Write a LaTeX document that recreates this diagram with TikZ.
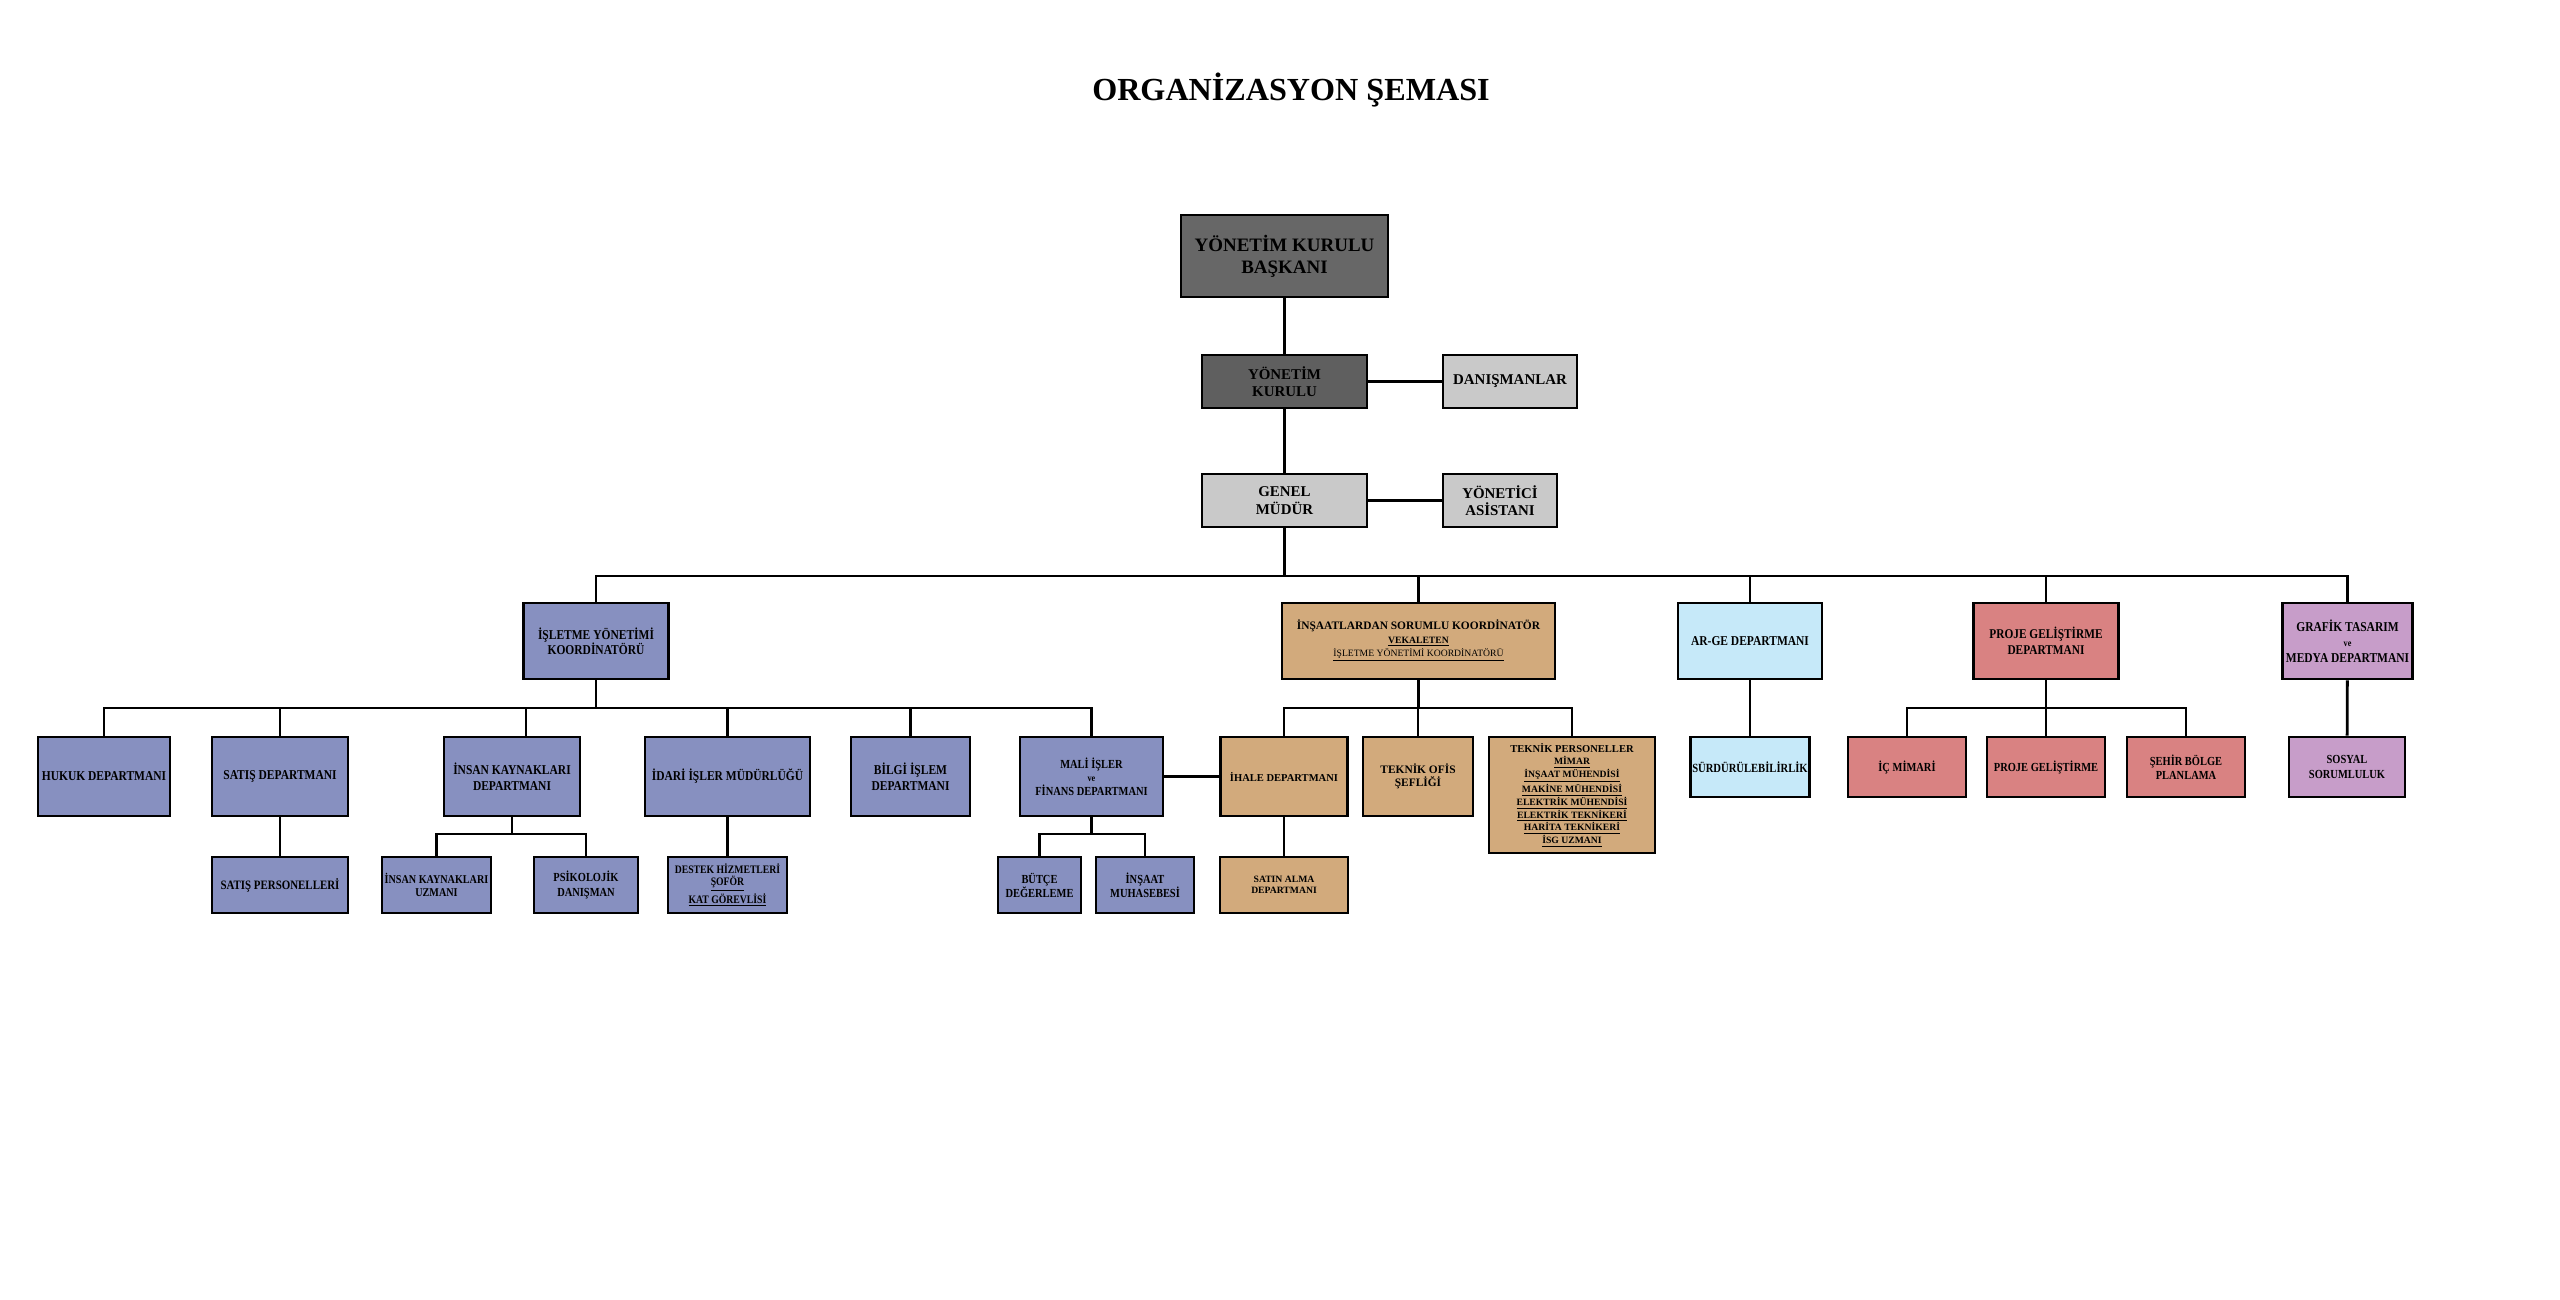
\documentclass[tikz,border=0pt]{standalone}
\usepackage{fontspec}
\setmainfont{Liberation Serif}
\newfontfamily\dar[FakeStretch=0.85]{Liberation Serif}
\usetikzlibrary{positioning}
\definecolor{baskangri}{HTML}{676767}
\definecolor{kurulgri}{HTML}{5F5F5F}
\definecolor{acikgri}{HTML}{C9C9C9}
\definecolor{isletmemavi}{HTML}{8790C0}
\definecolor{insaatkahve}{HTML}{D2AA7C}
\definecolor{argemavi}{HTML}{C6E9F9}
\definecolor{projepembe}{HTML}{D98282}
\definecolor{grafikmor}{HTML}{C79DC9}

\begin{document}
\begin{tikzpicture}[x=0.02cm,y=-0.02cm,
      box/.style={draw,line width=1.6pt,inner sep=1pt,align=center,text=black},
      sz/.style 2 args={minimum width=#1*0.02cm,minimum height=#2*0.02cm},
      ust/.style={box,font=\bfseries\fontsize{8.5}{9.9}\selectfont},
      mavi/.style={box,fill=isletmemavi,font=\dar\bfseries\fontsize{7.7}{8.8}\selectfont},
      kahve/.style={box,fill=insaatkahve,font=\bfseries\fontsize{6.5}{7.5}\selectfont},
      arge/.style={box,fill=argemavi,font=\dar\bfseries\fontsize{7.7}{8.8}\selectfont},
      proje/.style={box,fill=projepembe,font=\dar\bfseries\fontsize{7.6}{8.8}\selectfont},
      grafik/.style={box,fill=grafikmor,font=\dar\bfseries\fontsize{7.7}{8.8}\selectfont},
      kucuk/.style={font=\dar\bfseries\fontsize{7}{8}\selectfont},
      hat/.style={line width=1.6pt}]
  \useasboundingbox (0,0) rectangle (2560,1299);
  %.
  \node[font=\bfseries\fontsize{18.3}{22}\selectfont] (baslik) at (1291,90) {ORGANİZASYON ŞEMASI};
  %.
  \node[ust,fill=baskangri,sz={207}{82},font=\bfseries\fontsize{10.8}{12.6}\selectfont] (baskan) at (1284.5,256) {YÖNETİM KURULU\\BAŞKANI};
  \node[ust,fill=kurulgri,sz={165}{53}] (kurul) at (1284.5,381.5) {YÖNETİM\\KURULU};
  \node[ust,fill=acikgri,sz={134}{53}] (danisman) at (1510,381.5) {DANIŞMANLAR};
  \node[ust,fill=acikgri,sz={165}{53}] (genel) at (1284.5,500.5) {GENEL\\MÜDÜR};
  \node[ust,fill=acikgri,sz={114}{53}] (asistan) at (1500,500.5) {YÖNETİCİ\\ASİSTANI};
  %.
  \node[mavi,sz={145}{76}] (isletme) at (596,641) {İŞLETME YÖNETİMİ\\KOORDİNATÖRÜ};
  \node[kahve,sz={273}{76}] (insaat) at (1418.5,641) {İNŞAATLARDAN SORUMLU KOORDİNATÖR\\
      {\fontsize{5.5}{6.2}\selectfont\underline{VEKALETEN}}\\
      {\mdseries\fontsize{5.5}{6.2}\selectfont\underline{İŞLETME YÖNETİMİ KOORDİNATÖRÜ}}};
  \node[arge,sz={144}{76}] (argedep) at (1750,641) {AR-GE DEPARTMANI};
  \node[proje,sz={145}{76}] (projedep) at (2046,641) {PROJE GELİŞTİRME\\DEPARTMANI};
  \node[grafik,sz={130}{76}] (grafikdep) at (2347.5,641) {GRAFİK TASARIM\\{\fontsize{5.5}{6.2}\selectfont ve}\\MEDYA DEPARTMANI};
  %.
  \node[mavi,sz={132}{79}] (hukuk) at (104,776.5) {HUKUK DEPARTMANI};
  \node[mavi,sz={136}{79}] (satis) at (280,776.5) {SATIŞ DEPARTMANI};
  \node[mavi,sz={136}{79}] (ik) at (512,776.5) {İNSAN KAYNAKLARI\\DEPARTMANI};
  \node[mavi,sz={165}{79}] (idari) at (727.5,776.5) {İDARİ İŞLER MÜDÜRLÜĞÜ};
  \node[mavi,sz={119}{79}] (bilgi) at (910.5,776.5) {BİLGİ İŞLEM\\DEPARTMANI};
  \node[mavi,sz={143}{79},font=\dar\bfseries\fontsize{7}{7.8}\selectfont] (mali) at (1091.5,776.5) {MALİ İŞLER\\{\fontsize{5.5}{6}\selectfont ve}\\FİNANS DEPARTMANI};
  \node[kahve,sz={127}{79},font=\bfseries\fontsize{6}{7}\selectfont] (ihale) at (1284,776.5) {İHALE DEPARTMANI};
  \node[kahve,sz={110}{79}] (teknikofis) at (1418,776.5) {TEKNİK OFİS\\ŞEFLİĞİ};
  \node[kahve,sz={166}{116},font=\bfseries\fontsize{5.5}{7.2}\selectfont] (teknikpers) at (1572,795) {{\fontsize{6}{7.2}\selectfont TEKNİK PERSONELLER}\\
      \underline{MİMAR}\\\underline{İNŞAAT MÜHENDİSİ}\\\underline{MAKİNE MÜHENDİSİ}\\
      \underline{ELEKTRİK MÜHENDİSİ}\\\underline{ELEKTRİK TEKNİKERİ}\\
      \underline{HARİTA TEKNİKERİ}\\\underline{İSG UZMANI}};
  \node[arge,sz={118}{60},font=\dar\bfseries\fontsize{7.1}{8}\selectfont] (surdur) at (1750,767) {SÜRDÜRÜLEBİLİRLİK};
  \node[proje,kucuk,sz={118}{60}] (icmimari) at (1907,767) {İÇ MİMARİ};
  \node[proje,kucuk,sz={118}{60}] (projegel) at (2046,767) {PROJE GELİŞTİRME};
  \node[proje,kucuk,sz={118}{60}] (sehir) at (2186,767) {ŞEHİR BÖLGE\\PLANLAMA};
  \node[grafik,kucuk,sz={116}{60}] (sosyal) at (2347,767) {SOSYAL\\SORUMLULUK};
  %.
  \node[mavi,kucuk,sz={136}{56},font=\dar\bfseries\fontsize{7.3}{8}\selectfont] (satispers) at (280,885) {SATIŞ PERSONELLERİ};
  \node[mavi,kucuk,sz={109}{56},font=\dar\bfseries\fontsize{6.8}{7.8}\selectfont] (ikuzman) at (436.5,885) {İNSAN KAYNAKLARI\\UZMANI};
  \node[mavi,kucuk,sz={104}{56}] (psikolojik) at (586,885) {PSİKOLOJİK\\DANIŞMAN};
  \node[mavi,sz={119}{56},font=\dar\bfseries\fontsize{6.5}{7.2}\selectfont] (destek) at (727.5,885) {DESTEK HİZMETLERİ\\\underline{ŞOFÖR}\\\underline{KAT GÖREVLİSİ}};
  \node[mavi,kucuk,sz={83}{56}] (butce) at (1039.5,885) {BÜTÇE\\DEĞERLEME};
  \node[mavi,kucuk,sz={98}{56}] (insaatmuh) at (1145,885) {İNŞAAT\\MUHASEBESİ};
  \node[kahve,sz={128}{56},font=\bfseries\fontsize{5.5}{6.4}\selectfont] (satinalma) at (1284,885) {SATIN ALMA\\DEPARTMANI};
  %.
  \coordinate (ana) at (0,576);
  \coordinate (ara) at (0,708);
  \coordinate (alt) at (0,834);
  \coordinate (ikinme) at (526,0);
  %.
  \draw[hat] (baskan) -- (kurul);
  \draw[hat] (kurul) -- (genel);
  \draw[hat] (kurul) -- (danisman);
  \draw[hat] (genel) -- (asistan);
  \draw[hat] (genel.south) -- (genel |- ana);
  \draw[hat] (isletme.north) -- (isletme |- ana) -- (grafikdep |- ana) -- (grafikdep.north);
  \foreach \n in {insaat,argedep,projedep}
    \draw[hat] (\n.north) -- (\n |- ana);
  %.
  \draw[hat] (isletme.south) -- (isletme |- ara);
  \draw[hat] (hukuk.north) -- (hukuk |- ara) -- (mali |- ara) -- (mali.north);
  \foreach \n in {satis,idari,bilgi}
    \draw[hat] (\n.north) -- (\n |- ara);
  \draw[hat] (ikinme |- ik.north) -- (ikinme |- ara);
  \draw[hat] (satis) -- (satispers);
  \draw[hat] (ik.south) -- (ik |- alt);
  \draw[hat] (ikuzman.north) -- (ikuzman |- alt) -- (psikolojik |- alt) -- (psikolojik.north);
  \draw[hat] (idari) -- (destek);
  \draw[hat] (mali.south) -- (mali |- alt);
  \draw[hat] (butce.north) -- (butce |- alt) -- (insaatmuh |- alt) -- (insaatmuh.north);
  \draw[hat] (mali) -- (ihale);
  %.
  \draw[hat] (insaat.south) -- (insaat |- ara);
  \draw[hat] (ihale.north) -- (ihale |- ara) -- (teknikpers |- ara) -- (teknikpers.north);
  \draw[hat] (teknikofis.north) -- (teknikofis |- ara);
  \draw[hat] (ihale) -- (satinalma);
  \draw[hat] (argedep) -- (surdur);
  \draw[hat] (projedep.south) -- (projedep |- ara);
  \draw[hat] (icmimari.north) -- (icmimari |- ara) -- (sehir |- ara) -- (sehir.north);
  \draw[hat] (projegel.north) -- (projegel |- ara);
  \draw[hat] (grafikdep) -- (sosyal);
  %.
\end{tikzpicture}
\end{document}
